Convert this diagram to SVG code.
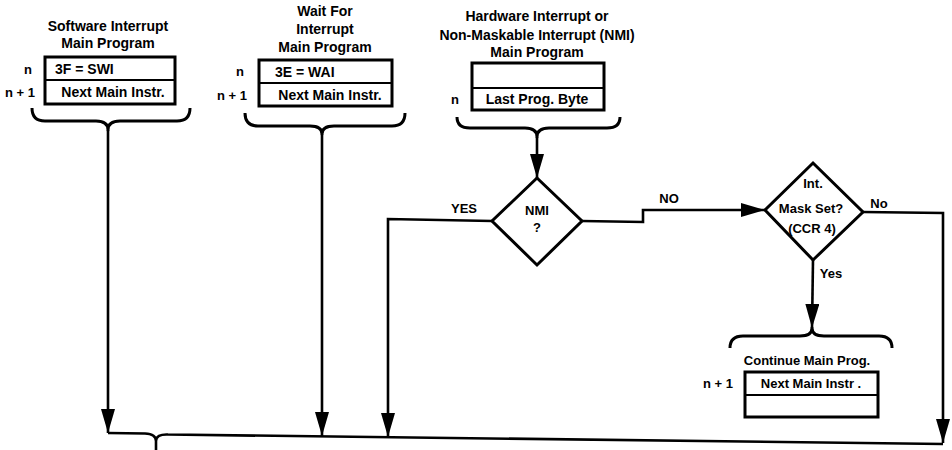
<svg xmlns="http://www.w3.org/2000/svg" width="952" height="450" viewBox="0 0 952 450">
<style>
  text { font-family: "Liberation Sans", Arial, sans-serif; font-weight: bold; font-size: 14px; fill: #000; }
  .c { text-anchor: middle; }
  .s { font-size: 13px; }
  .box { fill: #fff; stroke: #000; stroke-width: 3; }
  .div { stroke: #000; stroke-width: 2; fill: none; }
  .brace { fill: none; stroke: #000; stroke-width: 3; stroke-linejoin: round; }
  .ln { fill: none; stroke: #000; stroke-width: 2.6; stroke-linejoin: miter; }
  .dia { fill: #fff; stroke: #000; stroke-width: 3; stroke-linejoin: miter; }
</style>
<defs>
  <marker id="ah" markerUnits="userSpaceOnUse" markerWidth="24" markerHeight="14" refX="24" refY="7" orient="auto">
    <path d="M0,0 L24,7 L0,14 Z" fill="#000"/>
  </marker>
</defs>
<rect width="952" height="450" fill="#fff"/>

<g id="swi">
  <text class="c" x="108" y="31">Software Interrupt</text>
  <text class="c" x="108" y="48">Main Program</text>
  <rect class="box" x="45" y="57" width="130" height="47"/>
  <line class="div" x1="45" y1="80" x2="175" y2="80"/>
  <text x="55" y="74">3F = SWI</text>
  <text class="c" x="113" y="97">Next Main Instr.</text>
  <text class="c s" x="28" y="74">n</text>
  <text class="c s" x="20" y="97">n + 1</text>
  <path class="brace" d="M32,108 Q32,121 45,121 L96,121 Q108,121 108,130 Q108,121 120,121 L177,121 Q190,121 190,108"/>
</g>

<g id="wai">
  <text class="c" x="325" y="16">Wait For</text>
  <text class="c" x="325" y="34">Interrupt</text>
  <text class="c" x="325" y="52">Main Program</text>
  <rect class="box" x="259" y="60" width="133" height="46"/>
  <line class="div" x1="259" y1="83" x2="392" y2="83"/>
  <text x="275" y="77">3E = WAI</text>
  <text class="c" x="330" y="100">Next Main Instr.</text>
  <text class="c s" x="240" y="76">n</text>
  <text class="c s" x="232" y="100">n + 1</text>
  <path class="brace" d="M245,113 Q245,126 258,126 L310,126 Q322,126 322,134 Q322,126 334,126 L392,126 Q405,126 405,113"/>
</g>

<g id="hw">
  <text class="c" x="537" y="21">Hardware Interrupt or</text>
  <text class="c" x="537" y="40">Non-Maskable Interrupt (NMI)</text>
  <text class="c" x="537" y="57">Main Program</text>
  <rect class="box" x="472" y="63" width="132" height="47"/>
  <line class="div" x1="472" y1="88" x2="604" y2="88"/>
  <text class="c" x="537" y="104">Last Prog. Byte</text>
  <text class="c s" x="455" y="104">n</text>
  <path class="brace" d="M457,117 Q457,128 470,128 L525,128 Q537,128 537,137 Q537,128 549,128 L607,128 Q620,128 620,117"/>
</g>

<g id="nmi">
  <polygon class="dia" points="537,178 582,221 537,265 492,221"/>
  <text class="c s" x="537" y="215">NMI</text>
  <text class="c s" x="537" y="232">?</text>
</g>

<g id="mask">
  <polygon class="dia" points="813,163 863,212 813,260 765,210"/>
  <text class="c s" x="813" y="188">Int.</text>
  <text class="c s" x="811" y="213">Mask Set?</text>
  <text class="c s" x="812" y="233">(CCR 4)</text>
</g>

<g id="cont">
  <path class="brace" d="M730,348 Q730,336 743,336 L800,336 Q812,336 812,328 Q812,336 824,336 L879,336 Q892,336 892,348"/>
  <text class="c s" x="807" y="365">Continue Main Prog.</text>
  <rect class="box" x="745" y="372" width="133" height="45"/>
  <line class="div" x1="745" y1="395" x2="878" y2="395"/>
  <text class="c s" x="811" y="388">Next Main Instr .</text>
  <text class="c s" x="718" y="388">n + 1</text>
</g>

<g id="merge">
  <path class="ln" d="M108,433 L145,433.5 Q156,434 156,441 Q156,434 168,434.5 L943,444"/>
  <line class="ln" x1="156" y1="441" x2="156" y2="450"/>
</g>

<g id="connectors">
  <line class="ln" x1="108" y1="130" x2="108" y2="433" marker-end="url(#ah)"/>
  <line class="ln" x1="322" y1="134" x2="322" y2="436" marker-end="url(#ah)"/>
  <line class="ln" x1="537" y1="137" x2="537" y2="178" marker-end="url(#ah)"/>
  <polyline class="ln" points="492,221 388,219 388,437" marker-end="url(#ah)"/>
  <polyline class="ln" points="582,221 643,222 643,210 765,210" marker-end="url(#ah)"/>
  <polyline class="ln" points="863,212 943,213 943,443" marker-end="url(#ah)"/>
  <line class="ln" x1="813" y1="260" x2="812" y2="328" marker-end="url(#ah)"/>
  <text class="c s" x="464" y="213">YES</text>
  <text class="c s" x="669" y="203">NO</text>
  <text class="c s" x="879" y="208">No</text>
  <text class="c s" x="831" y="278">Yes</text>
</g>
</svg>
